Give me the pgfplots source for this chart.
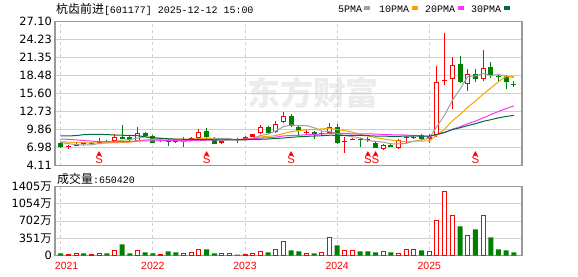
\documentclass[border=0pt]{standalone}
\usepackage{fontspec}
\setmainfont{DejaVu Sans}
\newfontfamily\cjk{Noto Sans CJK SC}
\newfontfamily\mono{Liberation Mono}
\newfontfamily\libsans{Liberation Sans}
\usepackage{pgfplots}
\usepackage{pgfplotstable}
\pgfplotsset{compat=1.18}
\definecolor{cred}{HTML}{FF0000}
\definecolor{cgreen}{HTML}{008000}
\definecolor{mafive}{HTML}{A0A0A0}
\definecolor{maten}{HTML}{F5A300}
\definecolor{matwenty}{HTML}{FF33FF}
\definecolor{mathirty}{HTML}{006B3C}
\definecolor{framec}{HTML}{9A9A9A}
\definecolor{gridc}{HTML}{D0D0D0}
\definecolor{wm}{HTML}{ECECEF}

% small up candles (red, filled look)
\pgfplotstableread{
i o h l c
1 7.13 7.35 6.82 7.25
2 7.29 7.70 7.20 7.61
4 7.56 7.85 7.50 7.72
5 7.72 8.52 7.65 7.99
13 7.99 8.25 7.85 8.15
16 7.90 8.60 7.10 7.98
17 8.20 8.60 8.10 8.45
21 7.67 8.10 7.55 7.99
22 8.22 8.55 8.15 8.30
24 8.30 8.75 8.20 8.64
25 8.73 9.20 8.60 9.12
32 9.42 9.80 9.20 9.52
34 9.20 9.55 9.00 9.30
37 7.85 8.73 6.17 7.95
38 8.28 8.55 8.15 8.36
45 8.50 8.80 7.77 8.60
46 8.65 8.95 8.40 8.73
48 8.30 9.10 7.67 8.73
50 17.65 25.33 16.92 17.80
}\upS
% hollow up candles
\pgfplotstableread{
i o h l c
7 8.04 9.17 7.95 8.73
10 8.09 10.24 8.00 9.28
18 8.48 9.97 8.40 9.54
26 9.28 10.61 9.20 10.24
28 9.44 11.20 9.35 10.77
29 11.09 12.65 10.90 12.05
35 9.37 10.98 9.20 10.24
42 6.80 7.60 6.60 7.35
44 6.97 8.40 6.80 8.20
49 9.00 20.08 8.73 17.46
51 17.94 21.48 13.13 20.24
53 17.19 19.55 16.02 18.75
55 17.94 22.65 17.56 19.71
}\upH
% down candles (green)
\pgfplotstableread{
i o h l c
0 7.77 7.90 6.98 7.03
3 7.72 7.82 7.40 7.51
6 8.09 8.20 7.75 7.88
8 8.63 10.61 8.30 8.36
9 8.68 8.90 8.05 8.25
11 9.33 9.45 8.75 8.89
12 8.89 8.95 7.70 7.77
14 8.10 8.30 7.24 8.00
15 8.02 8.20 7.75 7.90
19 9.65 10.10 8.55 8.64
20 8.41 8.70 7.50 7.61
23 8.30 8.45 7.70 8.20
27 10.29 10.50 9.10 9.38
30 12.05 12.40 10.30 10.50
31 10.34 10.60 9.05 9.65
33 9.45 9.60 8.30 9.05
36 10.34 10.72 7.60 7.77
39 8.40 8.55 7.13 8.30
40 8.32 8.60 7.80 8.20
41 7.77 8.00 6.90 6.97
43 7.40 7.55 7.05 7.13
47 9.00 9.15 8.25 8.30
52 20.29 21.68 17.30 17.40
54 18.80 19.60 17.40 17.94
56 19.87 20.61 18.04 18.59
57 18.42 18.80 17.40 18.30
58 18.36 18.50 16.39 17.40
59 17.07 17.62 16.66 16.95
}\dn
% moving averages
\pgfplotstableread{
i m5 m10 m20 m30
0 7.80 7.90 8.35 8.85
1 7.60 7.85 8.30 8.85
2 7.45 7.80 8.20 8.88
3 7.38 7.76 8.10 9.05
4 7.42 7.72 8.00 9.08
5 7.62 7.70 7.95 9.08
6 7.74 7.72 7.92 9.06
7 7.97 7.76 7.90 8.98
8 8.14 7.80 7.92 8.95
9 8.24 7.83 7.95 8.92
10 8.50 8.06 8.00 8.88
11 8.70 8.22 8.05 8.70
12 8.51 8.24 8.05 8.55
13 8.47 8.30 8.08 8.45
14 8.42 8.33 8.10 8.38
15 8.14 8.32 8.12 8.33
16 7.95 8.33 8.10 8.30
17 8.09 8.30 8.10 8.28
18 8.37 8.42 8.13 8.27
19 8.50 8.46 8.15 8.25
20 8.44 8.29 8.17 8.22
21 8.45 8.20 8.21 8.20
22 8.42 8.25 8.25 8.20
23 8.15 8.26 8.28 8.22
24 8.15 8.32 8.33 8.25
25 8.45 8.44 8.38 8.28
26 8.90 8.67 8.50 8.30
27 9.12 8.77 8.53 8.35
28 9.63 8.89 8.65 8.43
29 10.31 9.23 8.84 8.51
30 10.59 9.52 8.91 8.62
31 10.47 9.69 8.94 8.70
32 10.49 9.81 9.03 8.77
33 10.16 9.90 9.08 8.82
34 9.61 9.96 9.14 8.87
35 9.56 10.08 9.26 8.95
36 9.19 9.83 9.25 8.94
37 8.88 9.69 9.23 8.92
38 8.72 9.44 9.17 8.92
39 8.52 9.07 9.15 8.92
40 8.12 8.84 9.18 8.88
41 7.96 8.57 9.13 8.82
42 7.84 8.36 9.08 8.81
43 7.59 8.16 9.03 8.77
44 7.57 8.05 9.01 8.78
45 7.65 7.88 8.98 8.80
46 8.00 7.98 8.90 8.83
47 8.19 8.01 8.85 8.82
48 8.51 8.05 8.75 8.80
49 10.36 8.97 9.02 9.09
50 12.20 9.93 9.38 9.43
51 14.51 11.25 9.91 9.84
52 16.33 12.26 10.31 10.14
53 18.33 13.42 10.79 10.49
54 18.43 14.40 11.22 10.80
55 18.81 15.51 11.70 11.16
56 18.48 16.49 12.24 11.43
57 18.66 17.49 12.75 11.73
58 18.39 18.36 13.21 11.95
59 18.19 18.31 13.64 12.12
}\ma
% volume, up months (unit: 10k)
\pgfplotstableread{
i v
1 20
2 41
4 20
5 41
7 96
10 96
13 20
16 41
17 62
18 116
21 41
22 41
24 20
25 41
26 82
28 116
29 288
32 41
34 62
35 363
37 96
38 96
42 82
44 41
45 116
46 116
48 82
49 712
50 1308
51 815
53 404
55 815
}\volU
% volume, down months
\pgfplotstableread{
i v
0 41
3 41
6 41
8 226
9 41
11 62
12 41
14 82
15 62
19 123
20 41
23 20
27 62
30 103
31 82
33 41
36 205
39 82
40 82
41 62
43 62
47 103
52 596
54 534
56 370
57 123
58 103
59 65
}\volD

\pgfplotsset{
  kstyle/.style={
    scale only axis, width=467bp,
    xmin=-0.74, xmax=60.07,
    xtick={0,12,24,36,48},
    ymajorgrids, xmajorgrids,
    x grid style={gridc, dash pattern=on 3bp off 3bp, line width=0.8bp},
    y grid style={gridc, line width=1bp},
    axis line style={framec, line width=1.5bp},
    major tick length=0pt,
    yticklabel style={font=\fontsize{11.4}{12}\selectfont, inner sep=0pt, xshift=-3bp},
  },
  candle/.style 2 args={forget plot, draw=none, mark=none,
    error bars/.cd, y dir=minus, y explicit, error mark=none,
    error mark options={draw=none, fill=none},
    error bar style={draw=#1, line width=#2}},
}

\begin{document}
\begin{tikzpicture}[x=1bp,y=1bp]
\path (0,0) rectangle (578,276);
\node[text=wm, font=\cjk\bfseries\fontsize{33}{33}\selectfont, inner sep=0pt] at (313,183) {东方财富};

\begin{axis}[kstyle, at={(55bp,110.5bp)}, anchor=south west, height=143.8bp,
  ymin=4.11, ymax=27.10,
  ytick={4.11,6.98,9.86,12.73,15.60,18.48,21.35,24.23,27.10},
  yticklabels={4.11,6.98,9.86,12.73,15.60,18.48,21.35,24.23,27.10},
  xticklabels={}]
% wicks
\addplot[candle={cgreen}{1bp}] table[x=i, y=h, y error minus expr={\thisrow{h}-\thisrow{l}}] {\dn};
\addplot[candle={cred}{1bp}] table[x=i, y=h, y error minus expr={\thisrow{h}-\thisrow{l}}] {\upS};
\addplot[candle={cred}{1bp}] table[x=i, y=h, y error minus expr={\thisrow{h}-\thisrow{l}}] {\upH};
% bodies
\addplot[candle={cgreen}{5bp}] table[x=i, y=o, y error minus expr={\thisrow{o}-\thisrow{c}}] {\dn};
\addplot[candle={cred}{5bp}] table[x=i, y=c, y error minus expr={\thisrow{c}-\thisrow{o}}] {\upS};
\addplot[candle={cred}{5bp}] table[x=i, y=c, y error minus expr={\thisrow{c}-\thisrow{o}}] {\upH};
\addplot[candle={white}{3bp}] table[x=i, y expr={\thisrow{c}-0.16}, y error minus expr={\thisrow{c}-\thisrow{o}-0.32}] {\upH};
% moving averages
\addplot[mafive, line width=1bp, mark=none] table[x=i, y=m5] {\ma};
\addplot[maten, line width=1bp, mark=none] table[x=i, y=m10] {\ma};
\addplot[matwenty, line width=1bp, mark=none] table[x=i, y=m20] {\ma};
\addplot[mathirty, line width=1bp, mark=none] table[x=i, y=m30] {\ma};
% S signals
\addplot[only marks, mark=triangle*, mark size=2.4bp, mark options={draw=cred, fill=cred},
  nodes near coords={S}, nodes near coords align={below},
  every node near coord/.append style={text=cred, font=\libsans\fontsize{11.5}{12}\selectfont, inner sep=0pt, yshift=-1.5bp}]
  coordinates {(5,5.95) (19,5.95) (30,5.95) (40,5.95) (41,5.95) (54,5.95)};
\end{axis}

\begin{axis}[kstyle, at={(55bp,20.5bp)}, anchor=south west, height=68.8bp,
  ymin=0, ymax=1405,
  ytick={0,351.25,702.5,1053.75,1405},
  yticklabels={0,351{\cjk 万},702{\cjk 万},1054{\cjk 万},1405{\cjk 万}},
  xticklabels={\makebox[0pt][l]{\hspace{-5.7bp}2021},2022,2023,2024,2025},
  xticklabel style={text=cred, font=\libsans\fontsize{10.5}{11}\selectfont, anchor=north, inner sep=0pt, yshift=-6bp}]
\addplot[ybar, bar width=5bp, bar shift=0pt, fill=cgreen, draw=none] table[x=i, y=v] {\volD};
\addplot[ybar, bar width=4bp, bar shift=0pt, fill=white, draw=cred, line width=1bp] table[x=i, y=v] {\volU};
\end{axis}

% header
\node[anchor=west, inner sep=0pt] at (56,267) {{\cjk\fontsize{12}{12}\selectfont 杭齿前进}{\mono\fontsize{10}{12}\selectfont [601177] 2025-12-12 15:00}};
\node[anchor=west, inner sep=0pt, font=\mono\fontsize{10}{12}\selectfont] at (338,267) {5PMA};
\fill[mafive] (364,265.5) rectangle (370,269.5);
\node[anchor=west, inner sep=0pt, font=\mono\fontsize{10}{12}\selectfont] at (379,267) {10PMA};
\fill[maten] (412,265.5) rectangle (418,269.5);
\node[anchor=west, inner sep=0pt, font=\mono\fontsize{10}{12}\selectfont] at (425,267) {20PMA};
\fill[matwenty] (458,265.5) rectangle (464,269.5);
\node[anchor=west, inner sep=0pt, font=\mono\fontsize{10}{12}\selectfont] at (471,267) {30PMA};
\fill[mathirty] (503.5,265.5) rectangle (509.5,269.5);
\node[anchor=west, inner sep=0pt] at (57,97) {{\cjk\fontsize{12}{12}\selectfont 成交量}{\mono\fontsize{10}{12}\selectfont :650420}};
\end{tikzpicture}
\end{document}
